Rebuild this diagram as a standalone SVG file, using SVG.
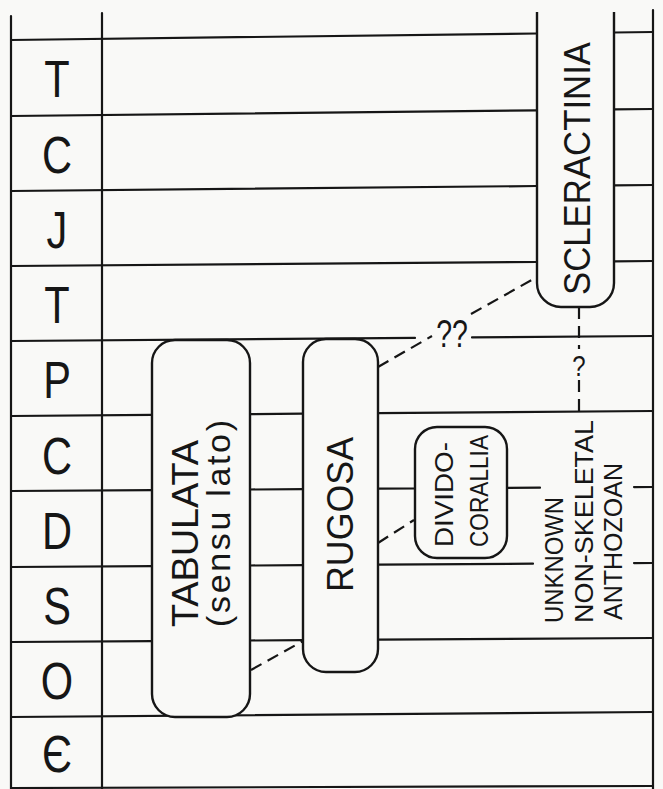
<svg xmlns="http://www.w3.org/2000/svg" width="663" height="789" viewBox="0 0 663 789">
<style>
.ln{stroke:#161616;stroke-width:2.2;fill:none;stroke-linecap:round}
.ds{stroke:#161616;stroke-width:2.2;fill:none;stroke-dasharray:12 7}
.box{fill:#f9f9f7;stroke:#161616;stroke-width:2.4}
.t{font-family:"Liberation Sans","DejaVu Sans",sans-serif;fill:#161616}
.per{font-size:52px;text-anchor:middle}
.big{font-size:36px}
.sm{font-size:25px}
</style>
<rect width="663" height="789" fill="#f9f9f7"/>
<g id="grid">
<path class="ln" d="M11,16V789 M102,13V789 M653,10V789"/>
<path class="ln" d="M11,40L537,33.5 M614,32.5L653,32"/>
<path class="ln" d="M11,116L537,110.3 M614,109.4L653,109"/>
<path class="ln" d="M11,191L537,186 M614,185.4L653,185"/>
<path class="ln" d="M11,266L537,262 M614,261.4L653,261"/>
<path class="ln" d="M11,341L415,337.9 M472,337.4L653,336"/>
<path class="ln" d="M11,416L152,414.9 M250,414.1L303,413.7 M378,413.1L653,411"/>
<path class="ln" d="M11,491L152,490.1 M250,489.5L303,489.2 M378,488.7L415,488.5 M507,487.9L540,487.7 M634,487.1L653,487"/>
<path class="ln" d="M11,567L152,566.1 M250,565.5L303,565.2 M378,564.7L533,563.7 M634,563.1L653,563"/>
<path class="ln" d="M11,642L152,641.1 M250,640.5L303,640.2 M378,639.7L653,638"/>
<path class="ln" d="M11,717L653,712"/>
<path class="ln" d="M11,788L653,786"/>
</g>
<g id="periods" class="t per">
<text transform="translate(57,97) scale(0.8,1)">T</text>
<text transform="translate(57,173) scale(0.8,1)">C</text>
<text transform="translate(57,248) scale(0.8,1)">J</text>
<text transform="translate(57,323) scale(0.8,1)">T</text>
<text transform="translate(57,398) scale(0.8,1)">P</text>
<text transform="translate(57,474) scale(0.8,1)">C</text>
<text transform="translate(57,549) scale(0.8,1)">D</text>
<text transform="translate(57,624) scale(0.8,1)">S</text>
<text transform="translate(57,699) scale(0.8,1)">O</text>
<text transform="translate(57,772) scale(0.8,1)">Є</text>
</g>
<g id="connectors">
<path class="ds" d="M378,367L432,336"/>
<path class="ds" d="M471,314L537,277"/>
<text class="t" font-size="38" text-anchor="middle" transform="translate(452,347) scale(0.75,1)">??</text>
<path class="ds" d="M579,307V349"/>
<path class="ds" d="M579,380V412"/>
<text class="t" font-size="30" text-anchor="middle" transform="translate(579,376) scale(0.8,1)">?</text>
<path class="ds" d="M378,543L414,520"/>
<path class="ds" d="M251,670L303,641"/>
</g>
<g id="scleractinia">
<path class="box" d="M537,12V283A24,24 0 0 0 561,307H590A24,24 0 0 0 614,283V12"/>
<text class="t big" transform="translate(590,295) rotate(-90)" textLength="253" lengthAdjust="spacingAndGlyphs">SCLERACTINIA</text>
</g>
<g id="tabulata">
<rect class="box" x="152" y="340" width="98" height="377" rx="23"/>
<text class="t big" transform="translate(198,627) rotate(-90)" textLength="187" lengthAdjust="spacingAndGlyphs">TABULATA</text>
<text class="t" font-size="34" transform="translate(230,627) rotate(-90)" textLength="207" lengthAdjust="spacing">(sensu lato)</text>
</g>
<g id="rugosa">
<rect class="box" x="303" y="339" width="75" height="333" rx="23"/>
<text class="t big" transform="translate(353,592) rotate(-90)" textLength="155" lengthAdjust="spacingAndGlyphs">RUGOSA</text>
</g>
<g id="dividocorallia">
<rect class="box" x="415" y="427" width="92" height="131" rx="22"/>
<text class="t sm" transform="translate(453,547) rotate(-90)" textLength="105" lengthAdjust="spacingAndGlyphs">DIVIDO-</text>
<text class="t sm" transform="translate(488,547) rotate(-90)" textLength="112" lengthAdjust="spacingAndGlyphs">CORALLIA</text>
</g>
<g id="unknown">
<text class="t sm" transform="translate(563,623) rotate(-90)" textLength="126" lengthAdjust="spacingAndGlyphs">UNKNOWN</text>
<text class="t sm" transform="translate(593,623) rotate(-90)" textLength="203" lengthAdjust="spacingAndGlyphs">NON-SKELETAL</text>
<text class="t sm" transform="translate(622,620) rotate(-90)" textLength="157" lengthAdjust="spacingAndGlyphs">ANTHOZOAN</text>
</g>
</svg>
